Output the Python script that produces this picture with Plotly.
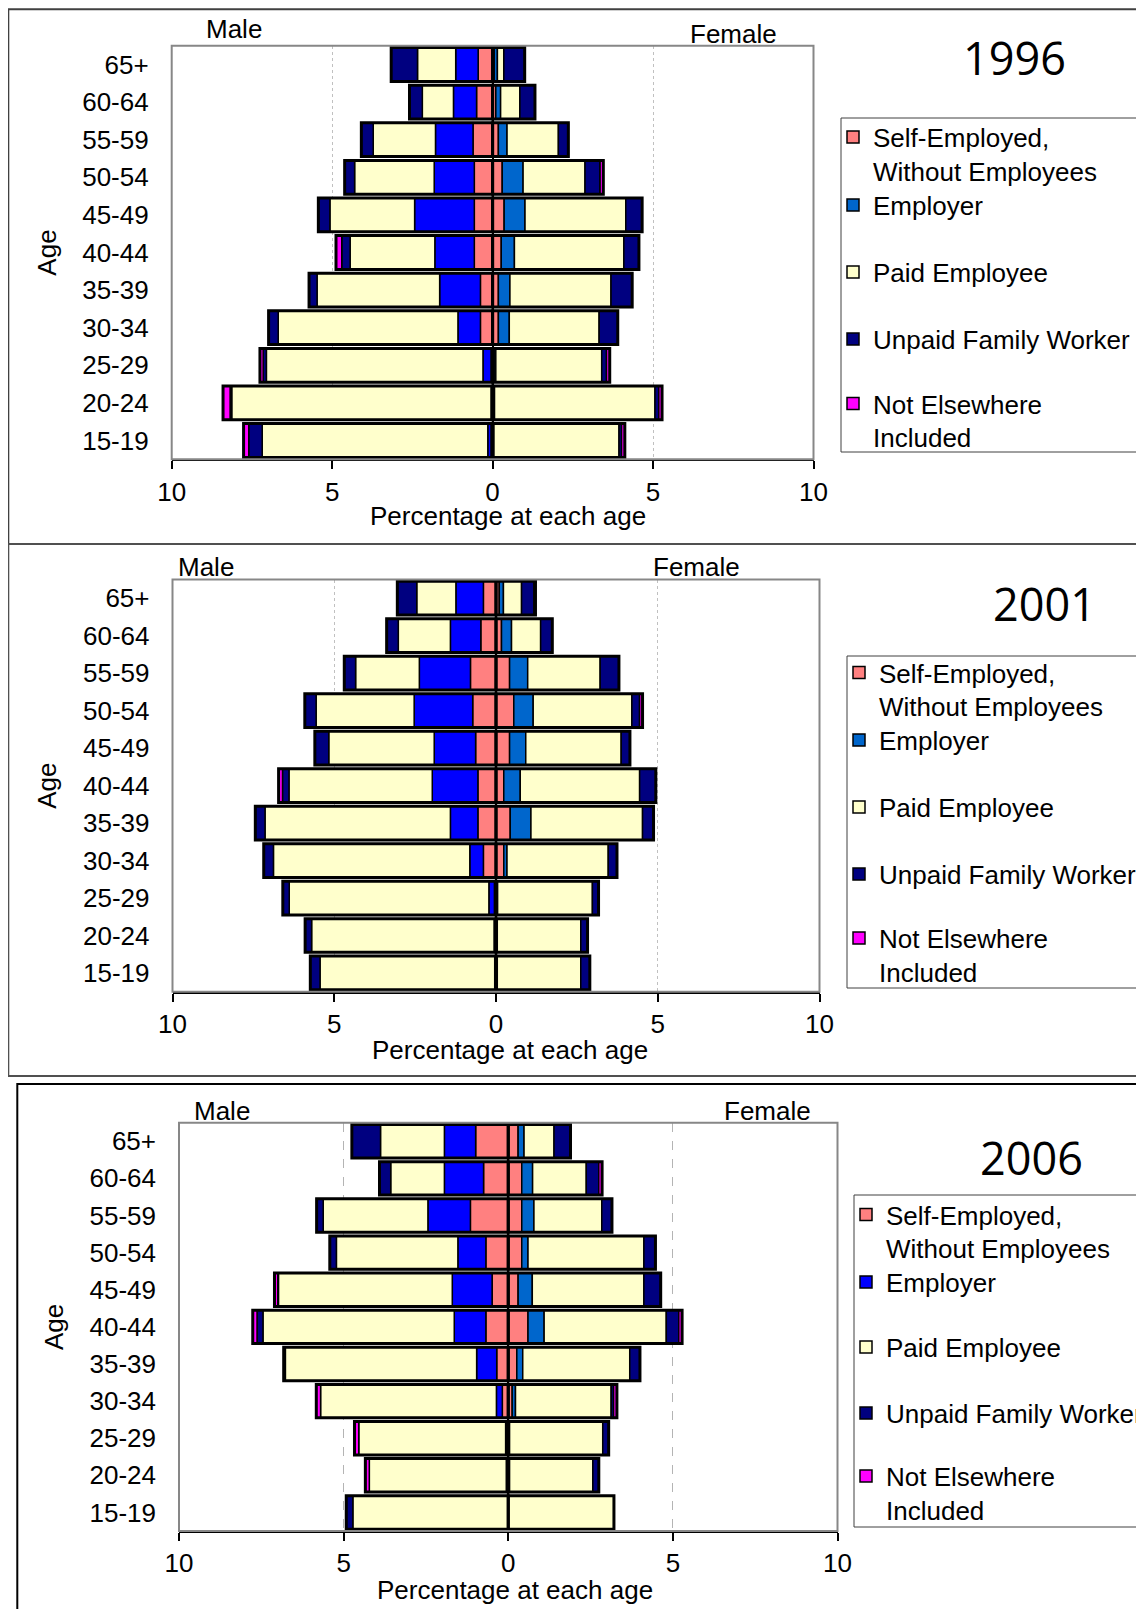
import plotly.graph_objects as go

# ---------------- data (percentage at each age) ----------------
AGES = ["65+", "60-64", "55-59", "50-54", "45-49", "40-44",
        "35-39", "30-34", "25-29", "20-24", "15-19"]
CATEGORIES = ["Self-Employed,<br>Without Employees", "Employer",
              "Paid Employee", "Unpaid Family Worker",
              "Not Elsewhere<br>Included"]
YEARS = ["1996", "2001", "2006"]
X_TICKS = [-10, -5, 0, 5, 10]
X_TICK_TEXT = ["10", "5", "0", "5", "10"]

# 1996
m96_self = [0.45, 0.50, 0.61, 0.57, 0.57, 0.57, 0.38, 0.38, 0.05, 0.02, 0.05]
m96_emp = [0.70, 0.72, 1.17, 1.25, 1.86, 1.23, 1.27, 0.70, 0.25, 0.03, 0.10]
m96_paid = [1.19, 0.97, 1.94, 2.48, 2.64, 2.64, 3.82, 5.60, 6.75, 8.08, 7.03]
m96_unpaid = [0.82, 0.40, 0.37, 0.31, 0.36, 0.26, 0.25, 0.30, 0.10, 0.05, 0.42]
m96_nei = [0.00, 0.00, 0.00, 0.00, 0.00, 0.18, 0.00, 0.00, 0.10, 0.22, 0.16]
f96_self = [0.05, 0.10, 0.18, 0.30, 0.36, 0.27, 0.18, 0.18, 0.05, 0.03, 0.02]
f96_emp = [0.10, 0.15, 0.27, 0.65, 0.65, 0.41, 0.36, 0.34, 0.05, 0.03, 0.02]
f96_paid = [0.20, 0.60, 1.60, 1.93, 3.14, 3.41, 3.15, 2.80, 3.30, 5.00, 3.90]
f96_unpaid = [0.65, 0.47, 0.31, 0.47, 0.51, 0.47, 0.66, 0.58, 0.15, 0.12, 0.08]
f96_nei = [0.00, 0.00, 0.00, 0.10, 0.00, 0.00, 0.00, 0.00, 0.10, 0.10, 0.10]

# 2001
m01_self = [0.39, 0.47, 0.79, 0.72, 0.63, 0.56, 0.56, 0.39, 0.05, 0.03, 0.02]
m01_emp = [0.85, 0.94, 1.58, 1.81, 1.28, 1.41, 0.85, 0.42, 0.17, 0.03, 0.02]
m01_paid = [1.21, 1.61, 1.97, 3.03, 3.26, 4.43, 5.73, 6.07, 6.17, 5.64, 5.40]
m01_unpaid = [0.60, 0.36, 0.35, 0.35, 0.43, 0.20, 0.30, 0.30, 0.20, 0.20, 0.30]
m01_nei = [0.00, 0.00, 0.00, 0.00, 0.00, 0.12, 0.00, 0.00, 0.00, 0.00, 0.00]
f01_self = [0.10, 0.17, 0.42, 0.55, 0.42, 0.24, 0.44, 0.24, 0.03, 0.02, 0.02]
f01_emp = [0.13, 0.31, 0.56, 0.60, 0.50, 0.51, 0.64, 0.10, 0.02, 0.02, 0.02]
f01_paid = [0.56, 0.90, 2.24, 3.05, 2.95, 3.69, 3.45, 3.13, 2.93, 2.58, 2.58]
f01_unpaid = [0.38, 0.36, 0.58, 0.24, 0.27, 0.50, 0.34, 0.27, 0.19, 0.21, 0.28]
f01_nei = [0.05, 0.00, 0.00, 0.09, 0.00, 0.00, 0.00, 0.00, 0.00, 0.00, 0.00]

# 2006
m06_self = [0.99, 0.75, 1.15, 0.68, 0.49, 0.68, 0.35, 0.18, 0.04, 0.03, 0.00]
m06_emp = [0.95, 1.19, 1.29, 0.85, 1.21, 0.96, 0.61, 0.18, 0.04, 0.03, 0.00]
m06_paid = [1.94, 1.63, 3.18, 3.69, 5.28, 5.81, 5.81, 5.34, 4.46, 4.16, 4.72]
m06_unpaid = [0.87, 0.34, 0.20, 0.20, 0.02, 0.18, 0.05, 0.00, 0.00, 0.00, 0.20]
m06_nei = [0.00, 0.00, 0.00, 0.00, 0.10, 0.13, 0.00, 0.13, 0.13, 0.12, 0.00]
f06_self = [0.30, 0.41, 0.41, 0.41, 0.30, 0.60, 0.26, 0.12, 0.02, 0.02, 0.00]
f06_emp = [0.18, 0.33, 0.37, 0.19, 0.43, 0.49, 0.18, 0.10, 0.02, 0.02, 0.00]
f06_paid = [0.91, 1.63, 2.06, 3.52, 3.39, 3.71, 3.25, 2.91, 2.83, 2.53, 3.21]
f06_unpaid = [0.50, 0.38, 0.31, 0.35, 0.51, 0.38, 0.31, 0.07, 0.18, 0.18, 0.00]
f06_nei = [0.00, 0.10, 0.00, 0.00, 0.00, 0.10, 0.00, 0.10, 0.00, 0.00, 0.00]

MALE = [[m96_self, m96_emp, m96_paid, m96_unpaid, m96_nei],
        [m01_self, m01_emp, m01_paid, m01_unpaid, m01_nei],
        [m06_self, m06_emp, m06_paid, m06_unpaid, m06_nei]]
FEMALE = [[f96_self, f96_emp, f96_paid, f96_unpaid, f96_nei],
          [f01_self, f01_emp, f01_paid, f01_unpaid, f01_nei],
          [f06_self, f06_emp, f06_paid, f06_unpaid, f06_nei]]

# ---------------- styling ----------------
PAGE_OFF = 8            # default body margin of the html page
W, H = 1136, 1601       # figure size (fits the 1144x1609 window)
FONT = "Liberation Sans, Arial, sans-serif"
FS = 26
MALE_COLORS = ["#FF8080", "#0000FF", "#FFFFCC", "#000080", "#FF00FF"]
FEMALE_COLORS = ["#FF8080", "#0066CC", "#FFFFCC", "#000080", "#FF00FF"]
LEGEND_FROM_MALE_EMP = [False, False, True]


def fx(px):
    return (px - PAGE_OFF) / W


def fy(py):
    return 1 - (py - PAGE_OFF) / H


# plot-area rectangles (left, right, top, bottom) in window pixels, per panel
PLOT_BOX = [(171.7, 813.5, 45.7, 459.3),
            (172.5, 819.5, 579.5, 991.7),
            (179.0, 837.5, 1122.7, 1531.0)]
# legend: text left x, item vertical centres, frame (left, top, bottom)
LEGEND_TEXT_X = [873, 879, 886]
LEGEND_ITEM_Y = [[154, 205, 272, 339, 420.5],
                 [689.5, 740, 807, 874, 955],
                 [1231.5, 1282, 1347, 1413, 1493]]
LEGEND_FRAME = [(841, 118, 452), (847, 656, 988), (854, 1195, 1527)]
MALE_LBL = [(234, 29), (206, 567), (222, 1111)]
FEMALE_LBL = [(733, 34), (696, 567), (767, 1111)]
YEAR_LBL = [(1014, 58), (1044, 603), (1031, 1157)]
XTITLE = [(508, 516), (510, 1050), (515, 1590)]
GRID = [("dot", "#c0c0c0"), ("dot", "#c0c0c0"), ("dash", "#b4b4b4")]
BOXES = [(8.3, 9.3, 1180, 544, "#404040"),
         (8.3, 544, 1180, 1076, "#505050"),
         (17.3, 1084, 1180, 1660, "#000000")]

fig = go.Figure()
layout = dict(
    width=W, height=H, margin=dict(l=0, r=0, t=0, b=0, autoexpand=False),
    paper_bgcolor="white", plot_bgcolor="white",
    barmode="relative", bargap=0.1, showlegend=True,
    font=dict(family=FONT, size=FS, color="black"),
)
annotations = []
shapes = []
leg_idx = 0

for p in range(3):
    n = p + 1
    xa = "x" if n == 1 else f"x{n}"
    ya = "y" if n == 1 else f"y{n}"
    xo = f"x{n + 3}"
    l, r, t, b = PLOT_BOX[p]

    for c in range(5):
        leg_idx += 1
        leg = "legend" if leg_idx == 1 else f"legend{leg_idx}"
        male_vals = [-v for v in MALE[p][c]]
        fem_vals = FEMALE[p][c]
        male_leg = (c == 1 and LEGEND_FROM_MALE_EMP[p]) or (c != 1)
        fig.add_trace(go.Bar(
            y=AGES, x=male_vals, orientation="h", name=CATEGORIES[c],
            marker=dict(color=MALE_COLORS[c], line=dict(color="black", width=1.5)),
            xaxis=xa, yaxis=ya, legend=leg, legendgroup=f"p{n}c{c}",
            showlegend=male_leg, hoverinfo="skip"))
        fig.add_trace(go.Bar(
            y=AGES, x=fem_vals, orientation="h", name=CATEGORIES[c],
            marker=dict(color=FEMALE_COLORS[c], line=dict(color="black", width=1.5)),
            xaxis=xa, yaxis=ya, legend=leg, legendgroup=f"p{n}c{c}",
            showlegend=not male_leg, hoverinfo="skip"))
        layout[leg] = dict(
            x=fx(LEGEND_TEXT_X[p] - 40), y=fy(LEGEND_ITEM_Y[p][c]),
            xanchor="left", yanchor="middle", xref="paper", yref="paper",
            bgcolor="rgba(0,0,0,0)", borderwidth=0,
            font=dict(size=FS, family=FONT, color="black"),
            valign="top", itemclick=False, itemdoubleclick=False)

    # heavy outline around each total bar
    male_tot = [-sum(MALE[p][c][i] for c in range(5)) for i in range(len(AGES))]
    fem_tot = [sum(FEMALE[p][c][i] for c in range(5)) for i in range(len(AGES))]
    for tot in (male_tot, fem_tot):
        fig.add_trace(go.Bar(
            y=AGES, x=tot, orientation="h",
            marker=dict(color="rgba(0,0,0,0)", line=dict(color="black", width=3)),
            xaxis=xo, yaxis=ya, showlegend=False, hoverinfo="skip"))

    dash, gcol = GRID[p]
    layout["xaxis" if n == 1 else f"xaxis{n}"] = dict(
        domain=[fx(l), fx(r)], anchor=ya, range=[-10, 10],
        tickmode="array", tickvals=X_TICKS, ticktext=X_TICK_TEXT,
        ticks="outside", ticklen=8, tickwidth=1.5, tickcolor="black",
        showline=True, linecolor="black", linewidth=2,
        showgrid=True, gridcolor=gcol, griddash=dash, gridwidth=1,
        zeroline=True, zerolinecolor="black", zerolinewidth=1.5,
        tickfont=dict(size=FS, family=FONT, color="black"),
        fixedrange=True)
    layout[f"xaxis{n + 3}"] = dict(
        domain=[fx(l), fx(r)], anchor=ya, overlaying=xa, range=[-10, 10],
        visible=False, fixedrange=True)
    layout["yaxis" if n == 1 else f"yaxis{n}"] = dict(
        domain=[fy(b), fy(t)], anchor=xa, type="category",
        categoryorder="array", categoryarray=AGES, autorange="reversed",
        showline=False, showgrid=False, zeroline=False, ticks="",
        tickfont=dict(size=FS, family=FONT, color="black"),
        ticklabelstandoff=22,
        title=dict(text="Age", font=dict(size=FS, family=FONT), standoff=18),
        fixedrange=True)

    # plot-area frame (grey)
    shapes.append(dict(type="rect", xref=f"{xa} domain", yref=f"{ya} domain",
                       x0=0, x1=1, y0=0, y1=1, line=dict(color="#878787", width=2),
                       layer="above"))
    # panel border
    bx0, by0, bx1, by1, bc = BOXES[p]
    shapes.append(dict(type="rect", xref="paper", yref="paper",
                       x0=fx(bx0), x1=fx(bx1), y0=fy(by1), y1=fy(by0),
                       line=dict(color=bc, width=2), layer="below"))
    # legend frame
    lfx, lft, lfb = LEGEND_FRAME[p]
    shapes.append(dict(type="rect", xref="paper", yref="paper",
                       x0=fx(lfx), x1=fx(1180), y0=fy(lfb), y1=fy(lft),
                       line=dict(color="#404040", width=1), fillcolor="white",
                       layer="below"))

    for (px_, py_), txt in ((MALE_LBL[p], "Male"), (FEMALE_LBL[p], "Female")):
        annotations.append(dict(x=fx(px_), y=fy(py_), xref="paper", yref="paper",
                                text=txt, showarrow=False, xanchor="center",
                                yanchor="middle", font=dict(size=FS, family=FONT)))
    yx, yy = YEAR_LBL[p]
    annotations.append(dict(x=fx(yx), y=fy(yy), xref="paper", yref="paper",
                            text=YEARS[p], showarrow=False, xanchor="center",
                            yanchor="middle",
                            font=dict(size=45, family="Open Sans, sans-serif")))
    tx, ty = XTITLE[p]
    annotations.append(dict(x=fx(tx), y=fy(ty), xref="paper", yref="paper",
                            text="Percentage at each age", showarrow=False,
                            xanchor="center", yanchor="middle",
                            font=dict(size=FS, family=FONT)))

layout["annotations"] = annotations
layout["shapes"] = shapes
fig.update_layout(**layout)
fig.write_html("out.html")
